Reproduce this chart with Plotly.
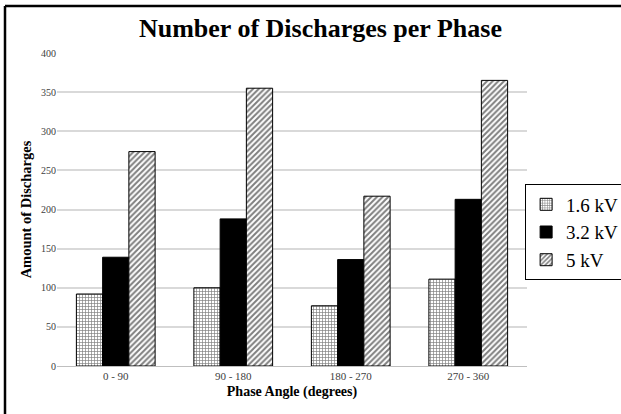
import plotly.graph_objects as go

categories = ["0 - 90", "90 - 180", "180 - 270", "270 - 360"]
kv16 = [92, 100, 77, 111]
kv32 = [139, 188, 136, 213]
kv50 = [274, 355, 217, 365]
series_names = ["1.6 kV", "3.2 kV", "5 kV"]
y_ticks = [0, 50, 100, 150, 200, 250, 300, 350, 400]

SERIF = "Liberation Serif, Times New Roman, serif"
W, H = 621, 414
L, R, T, B = 57, 94, 53, 48

fig = go.Figure()
fig.add_trace(go.Bar(
    x=categories, y=kv16, name=series_names[0],
    marker=dict(color="white", line=dict(color="black", width=1),
                pattern=dict(shape="+", size=3, solidity=0.4, fgcolor="black", bgcolor="white")),
))
fig.add_trace(go.Bar(
    x=categories, y=kv32, name=series_names[1],
    marker=dict(color="black", line=dict(color="black", width=1)),
))
fig.add_trace(go.Bar(
    x=categories, y=kv50, name=series_names[2],
    marker=dict(color="white", line=dict(color="black", width=1),
                pattern=dict(shape="/", size=4, solidity=0.5, fgcolor="black", bgcolor="white")),
))

pw = W - L - R
ph = H - T - B
fig.update_layout(
    width=W, height=H,
    margin=dict(l=L, r=R, t=T, b=B, autoexpand=False),
    paper_bgcolor="white", plot_bgcolor="white",
    barmode="group", bargap=0.33, bargroupgap=0,
    font=dict(family=SERIF, color="#404040", size=10),
    title=dict(text="<b>Number of Discharges per Phase</b>",
               font=dict(family=SERIF, size=26, color="black"),
               x=0.516, xref="container", xanchor="center",
               y=1 - 28 / H, yref="container", yanchor="middle"),
    xaxis=dict(showgrid=False, showline=True, linecolor="#bfbfbf", linewidth=1,
               ticks="", tickfont=dict(family=SERIF, size=11, color="#404040"),
               title=dict(text="<b>Phase Angle (degrees)</b>", standoff=4,
                          font=dict(family=SERIF, size=14, color="black"))),
    yaxis=dict(range=[0, 400], tickvals=y_ticks, showgrid=True, gridcolor="#d9d9d9",
               gridwidth=1.5, zeroline=False, showline=False, ticks="",
               tickfont=dict(family=SERIF, size=10, color="#404040"),
               title=dict(text="<b>Amount of Discharges</b>", standoff=5,
                          font=dict(family=SERIF, size=14.5, color="black"))),
    legend=dict(x=0.996, xanchor="left", y=0.58, yanchor="top",
                bordercolor="black", borderwidth=1, bgcolor="white",
                font=dict(family=SERIF, size=19, color="black"),
                itemwidth=30, tracegroupgap=0),
    showlegend=True,
)

# image frame (top and left edges)
fig.add_shape(type="line", xref="paper", yref="paper",
              x0=-(L - 5) / pw, x1=(W - L) / pw, y0=1 + (T - 6) / ph, y1=1 + (T - 6) / ph,
              line=dict(color="black", width=2.5))
fig.add_shape(type="line", xref="paper", yref="paper",
              x0=-(L - 5) / pw, x1=-(L - 5) / pw, y0=1 + (T - 6) / ph, y1=-B / ph,
              line=dict(color="black", width=2.5))

fig.write_html("out.html")
